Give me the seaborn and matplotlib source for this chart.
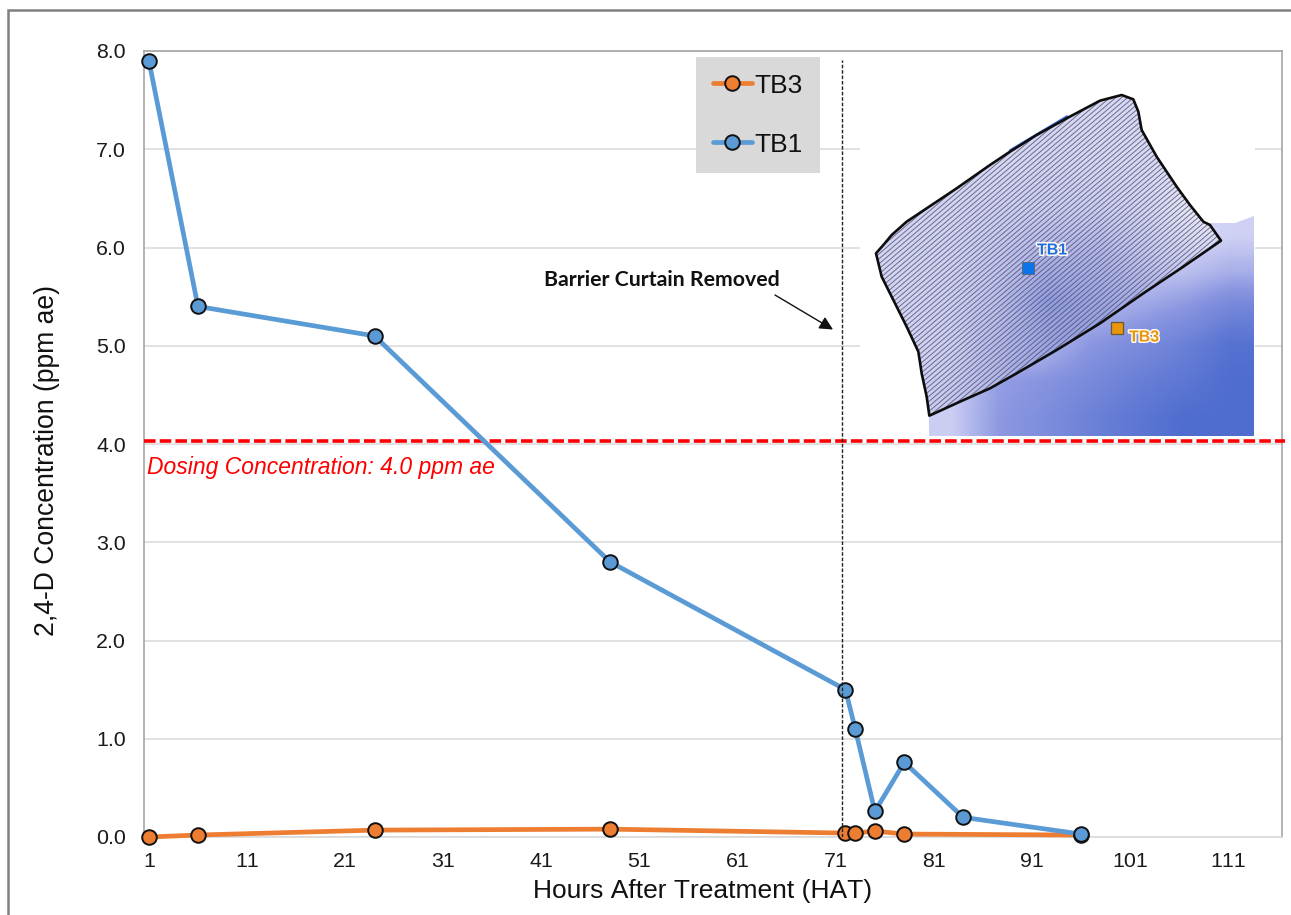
import matplotlib
matplotlib.use("Agg")
import numpy as np
import pandas as pd
import seaborn as sns
import matplotlib.pyplot as plt
import matplotlib.patheffects as pe
from matplotlib.collections import LineCollection
from matplotlib.colors import LinearSegmentedColormap
from matplotlib.patches import Polygon, Rectangle

# ---- data
hours_tb1 = [1, 6, 24, 48, 72, 73, 75, 78, 84, 96]
conc_tb1 = [7.9, 5.4, 5.1, 2.8, 1.5, 1.1, 0.26, 0.76, 0.2, 0.03]
hours_tb3 = [1, 6, 24, 48, 72, 73, 75, 78, 96]
conc_tb3 = [0.0, 0.02, 0.07, 0.08, 0.04, 0.04, 0.06, 0.03, 0.02]
dosing_level = 4.03
curtain_hour = 71.65
x_labels = [1, 11, 21, 31, 41, 51, 61, 71, 81, 91, 101, 111]
y_ticks = [0, 1, 2, 3, 4, 5, 6, 7, 8]

# ---- inset map outline and shading (figure pixels / relative shade)
plot_outline_zoom = [(78,520),(100,495),(125,465),(170,425),(230,385),(320,325),(420,255),(480,215),
                     (560,165),(650,115),(750,62),(815,45),(850,58),(865,95),(875,150),(920,230),
                     (980,320),(1020,375),(1060,425),(1080,435),(1113,482),(1000,560),(880,640),
                     (750,730),(620,810),(500,880),(420,925),(330,965),(238,1007),(230,950),
                     (215,880),(205,815),(170,740),(130,660),(95,590)]
field_outline = [(929,416),(1221,240),(1197,223),(1235,223),(1254,216),(1254,436),(929,436)]
field_shade = [[.10,.10,.10,.10,.15,.20,.25],
               [.10,.10,.15,.20,.30,.35,.45],
               [.15,.20,.30,.40,.50,.60,.75],
               [.20,.30,.40,.60,.70,.80,.95],
               [.28,.55,.62,.72,.82,.90,1.0],
               [.28,.58,.68,.80,.90,1.0,1.0]]
plot_shade = [[.20,.20,.20,.20,.20,.20,.20],
              [.20,.20,.20,.23,.21,.20,.12],
              [.22,.23,.27,.29,.29,.23,.08],
              [.23,.25,.33,.43,.43,.33,.23],
              [.23,.27,.37,.57,.51,.45,.35],
              [.23,.27,.41,.51,.55,.55,.55],
              [.23,.31,.41,.55,.55,.55,.55]]

W, H = 1291, 915
L, R, T, B = 144, 1282, 51, 837
sns.set_theme(style="white")
plt.rcParams["font.family"] = ["Liberation Sans", "DejaVu Sans"]
plt.rcParams["text.kerning_factor"] = 12

fig = plt.figure(figsize=(W / 100, H / 100), dpi=100, facecolor="white")
ax = fig.add_axes([L / W, (H - B) / H, (R - L) / W, (B - T) / H])

BLUE, ORANGE = "#5b9bd5", "#ed7d31"
style = dict(lw=3.4, marker="o", markersize=10.5, markeredgecolor="#111111", markeredgewidth=1.4,
             clip_on=False, zorder=4)
sns.lineplot(data=pd.DataFrame({"h": hours_tb3, "c": conc_tb3}), x="h", y="c", ax=ax, color=ORANGE,
             label="TB3", errorbar=None, **style)
sns.lineplot(data=pd.DataFrame({"h": hours_tb1, "c": conc_tb1}), x="h", y="c", ax=ax, color=BLUE,
             label="TB1", errorbar=None, **style)

ax.set_xlim(0.5, 116.5)
ax.set_ylim(0, 8)
ax.set_yticks(y_ticks, [f"{v:.1f}" for v in y_ticks])
ax.set_xticks([v - 0.5 for v in x_labels], [""] * len(x_labels))
ax.set_xticks(x_labels, [str(v) for v in x_labels], minor=True)
ax.grid(axis="y", color="#d9d9d9", lw=1.1)
ax.grid(axis="x", visible=False)
ax.set_axisbelow(True)
ax.tick_params(axis="y", length=0, pad=13, labelsize=15.4, labelcolor="#1a1a1a")
ax.tick_params(axis="x", which="major", direction="inout", length=9, width=1.1, color="#d9d9d9")
ax.tick_params(axis="x", which="minor", length=0, pad=11, labelsize=15.4, labelcolor="#1a1a1a")
for s in ("left", "top", "right"):
    ax.spines[s].set_color("#a6a6a6")
    ax.spines[s].set_linewidth(1.2)
ax.spines["bottom"].set_color("#d9d9d9")
ax.spines["bottom"].set_linewidth(1.2)

ax.set_xlabel("Hours After Treatment (HAT)", fontsize=19, color="#111111", va="center")
ax.xaxis.set_label_coords((703 - L) / (R - L), -(891 - B) / (B - T))
ax.set_ylabel("2,4-D Concentration (ppm ae)", fontsize=19.1, color="#111111", va="center")
ax.yaxis.set_label_coords((47 - L) / (R - L), (B - 460) / (B - T))

ax.plot([0.5, 116.8], [dosing_level, dosing_level], color="#ff0000", lw=2.6, dashes=(3.2, 1.15),
        dash_capstyle="butt", zorder=3, clip_on=False)
ax.plot([curtain_hour, curtain_hour], [0, 7.91], color="#222222", lw=1.0, dashes=(2.6, 1.3), zorder=5)
ax.text(0.8, 3.76, "Dosing Concentration: 4.0 ppm ae", color="#ff0000", fontsize=16.5,
        style="italic", va="center", ha="left")

leg = ax.legend(loc="upper left", bbox_to_anchor=((696 - L) / (R - L), (B - 57) / (B - T)),
                borderaxespad=0, fontsize=19, frameon=True, fancybox=False, facecolor="#d9d9d9",
                edgecolor="none", framealpha=1, handlelength=1.5, handletextpad=0.1,
                labelspacing=1.33, borderpad=0.63, labelcolor="#111111")

# ---- overlay in figure pixels: outer frame, note and inset map
ov = fig.add_axes([0, 0, 1, 1], zorder=10, facecolor="none")
ov.set_xlim(0, W)
ov.set_ylim(H, 0)
ov.axis("off")
ov.plot([8, 8, W], [H, 10, 10], color="#808080", lw=1.8, solid_joinstyle="miter")

ov.text(544, 280, "Barrier Curtain Removed", fontfamily="Lato", fontweight="bold", fontsize=15.3,
        color="#111111", va="center", ha="left")
ov.annotate("", xy=(833, 329.5), xytext=(775, 295),
            arrowprops=dict(arrowstyle="-|>", color="#111111", lw=1.0, mutation_scale=20,
                            shrinkA=0, shrinkB=0))

ov.add_patch(Rectangle((860, 95), 395, 341, facecolor="white", edgecolor="none", zorder=1))
cmap = LinearSegmentedColormap.from_list("map", [(0, "#f4f4fd"), (.3, "#c8caf2"), (.6, "#8a96e0"), (1, "#4f6dcf")])

field_patch = Polygon(field_outline, closed=True, transform=ov.transData, facecolor="none", edgecolor="none")
ov.add_patch(field_patch)
im = ov.imshow(field_shade, extent=(929, 1254, 436, 216), cmap=cmap, vmin=0, vmax=1, aspect="auto",
               interpolation="bilinear", zorder=2)
im.set_clip_path(field_patch)

plot_outline = [(850 + x / 3, 80 + y / 3) for x, y in plot_outline_zoom]
ov.plot([1010, 1067], [150.5, 116.5], color="#3d66dc", lw=1.8, zorder=2)
bg = Polygon(plot_outline, closed=True, facecolor="white", edgecolor="none", zorder=3)
ov.add_patch(bg)
im2 = ov.imshow(plot_shade, extent=(875, 1222, 416, 95), cmap=cmap, vmin=0, vmax=1, aspect="auto",
                interpolation="bilinear", zorder=4)
im2.set_clip_path(bg)

slope = -0.85
segs = [[(860, y0), (1240, y0 + slope * 380)] for y0 in np.arange(150, 800, 5.0)]
hatch = LineCollection(segs, colors="#4a4a5c", linewidths=0.65, alpha=0.8, zorder=5)
ov.add_collection(hatch)
hatch.set_clip_path(bg)
ov.add_patch(Polygon(plot_outline, closed=True, facecolor="none", edgecolor="#0d0d0d", lw=1.9,
                     joinstyle="round", zorder=6))
ov.set_xlim(0, W)
ov.set_ylim(H, 0)

ov.add_patch(Rectangle((1022, 262), 12, 12, facecolor="#0b74ea", edgecolor="#5a6a80", lw=0.7, zorder=7))
ov.add_patch(Rectangle((1111, 322), 12, 12, facecolor="#e8960a", edgecolor="#6b5a2a", lw=0.9, zorder=7))
halo = [pe.withStroke(linewidth=2.2, foreground="#fff8f0")]
ov.text(1037, 250, "TB1", color="#1f6fe0", fontsize=11.5, fontweight="bold", va="center", ha="left",
        path_effects=halo, zorder=8)
ov.text(1129, 337, "TB3", color="#e8960a", fontsize=11.5, fontweight="bold", va="center", ha="left",
        path_effects=halo, zorder=8)

fig.savefig("out.png", dpi=100)
